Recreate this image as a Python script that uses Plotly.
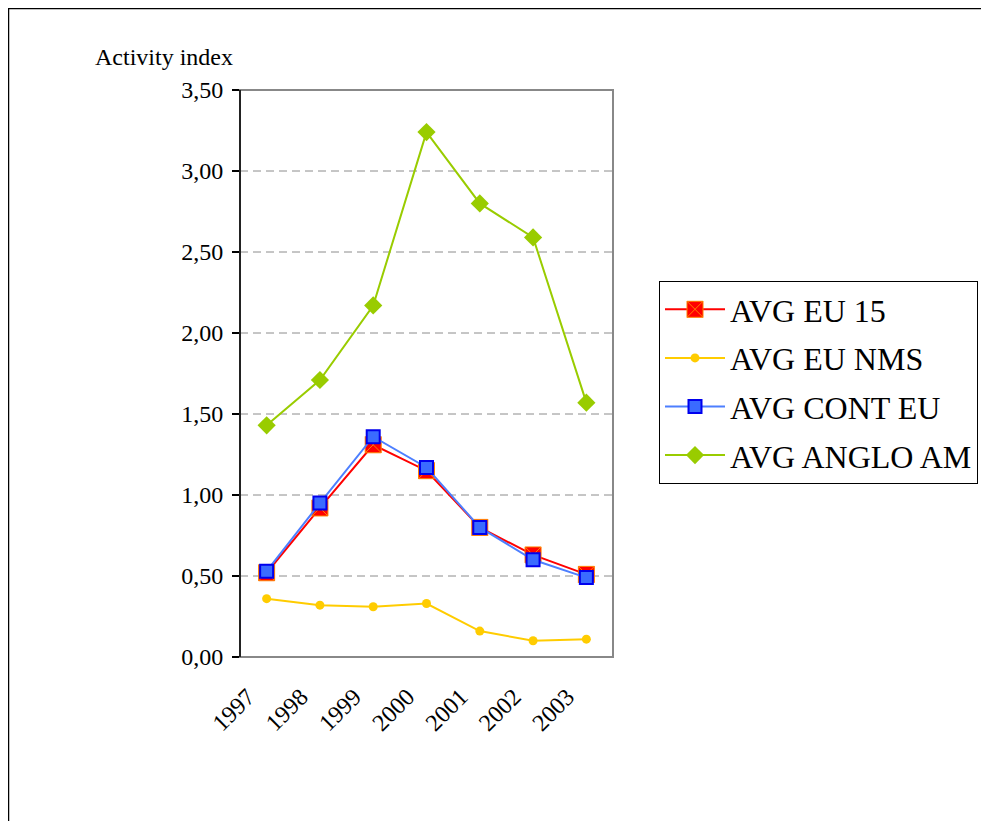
import plotly.graph_objects as go

years = ["1997", "1998", "1999", "2000", "2001", "2002", "2003"]
eu15 = [0.52, 0.92, 1.31, 1.15, 0.80, 0.63, 0.51]
eu_nms = [0.36, 0.32, 0.31, 0.33, 0.16, 0.10, 0.11]
cont_eu = [0.53, 0.95, 1.36, 1.17, 0.80, 0.60, 0.49]
anglo_am = [1.43, 1.71, 2.17, 3.24, 2.80, 2.59, 1.57]
y_ticks = [0, 0.5, 1.0, 1.5, 2.0, 2.5, 3.0, 3.5]
y_tick_labels = ["0,00", "0,50", "1,00", "1,50", "2,00", "2,50", "3,00", "3,50"]

FONT = "Liberation Serif"
OFF = 8  # page body margin
W, H = 989, 821
L, R, T, B = 240 - OFF, 613 - OFF, 90 - OFF, 657 - OFF
pw, ph = R - L, B - T

def px(x):
    return (x - OFF - L) / pw

def py(y):
    return (B - (y - OFF)) / ph

fig = go.Figure()
fig.add_trace(go.Scatter(x=years, y=eu15, name="AVG EU 15", mode="lines+markers",
                         line=dict(color="#ff0000", width=2),
                         marker=dict(symbol="square-x", size=16, color="#ff0000",
                                     line=dict(color="#ff8000", width=1)),
                         legendgroup="a"))
fig.add_trace(go.Scatter(x=years, y=eu_nms, name="AVG EU NMS", mode="lines+markers",
                         line=dict(color="#ffcc00", width=2),
                         marker=dict(symbol="circle", size=9, color="#ffcc00"),
                         legendgroup="b"))
fig.add_trace(go.Scatter(x=years, y=cont_eu, name="AVG CONT EU", mode="lines+markers",
                         line=dict(color="#4d7fff", width=2),
                         marker=dict(symbol="square", size=13, color="#3a6bff",
                                     line=dict(color="#0000ee", width=2)),
                         legendgroup="c"))
fig.add_trace(go.Scatter(x=years, y=anglo_am, name="AVG ANGLO AM", mode="lines+markers",
                         line=dict(color="#99cc00", width=2),
                         marker=dict(symbol="diamond", size=14, color="#99cc00"),
                         legendgroup="d"))

shapes = []
# outer frame
shapes.append(dict(type="rect", xref="paper", yref="paper",
                   x0=px(8.5), x1=px(988), y0=py(830), y1=py(8.5),
                   line=dict(color="black", width=1.5), layer="below"))
# plot area border (gray)
shapes.append(dict(type="rect", xref="paper", yref="paper",
                   x0=0, x1=1, y0=0, y1=1,
                   line=dict(color="#888888", width=2), layer="above"))
# dashed gridlines
for v in y_ticks[1:-1]:
    shapes.append(dict(type="line", xref="paper", yref="y", x0=0, x1=1, y0=v, y1=v,
                       line=dict(color="#8c8c8c", width=1, dash="8px,5px"), layer="below"))
# left axis line
shapes.append(dict(type="line", xref="paper", yref="paper", x0=0, x1=0, y0=0, y1=1,
                   line=dict(color="black", width=1.5), layer="above"))

fig.update_layout(
    width=W, height=H,
    margin=dict(l=L, r=W - R, t=T, b=H - B, pad=0),
    paper_bgcolor="white", plot_bgcolor="white",
    font=dict(family=FONT, color="black"),
    showlegend=True,
    legend=dict(x=px(659), y=py(281), xanchor="left", yanchor="top",
                bordercolor="black", borderwidth=1, bgcolor="white",
                font=dict(family=FONT, size=32, color="black"),
                traceorder="grouped", tracegroupgap=4, itemwidth=60),
    xaxis=dict(range=[-0.5, 6.5], showgrid=False, zeroline=False, showline=False,
               tickangle=-45, tickfont=dict(family=FONT, size=24, color="black"),
               ticks="", ticklen=0, ticklabelshift=-19, ticklabelstandoff=20),
    yaxis=dict(range=[0, 3.5], tickvals=y_ticks, ticktext=y_tick_labels,
               showgrid=False, zeroline=False, showline=False,
               ticks="outside", ticklen=7, tickcolor="black", tickwidth=1.5,
               ticklabelstandoff=4,
               tickfont=dict(family=FONT, size=24, color="black")),
    shapes=shapes,
    annotations=[dict(text="Activity index", xref="paper", yref="paper",
                      x=px(93), y=py(57), xanchor="left", yanchor="middle",
                      showarrow=False, font=dict(family=FONT, size=24, color="black"))],
)

fig.write_html("out.html")
